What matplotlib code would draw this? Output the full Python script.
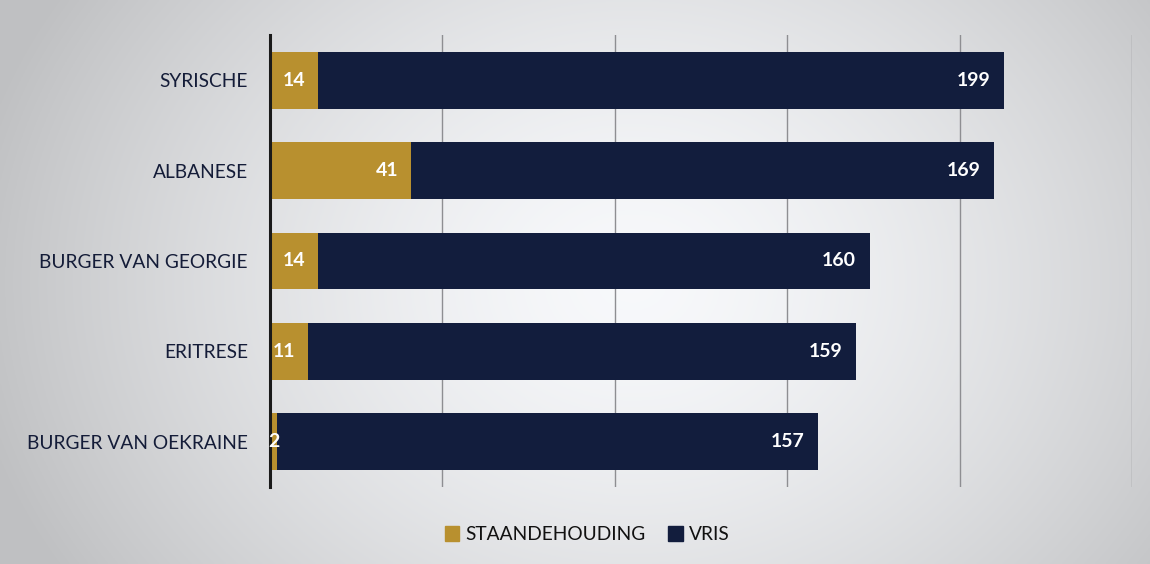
import numpy as np
import matplotlib
matplotlib.use("Agg")
import matplotlib.pyplot as plt
from matplotlib.patches import Patch

# Nationalities and counts per outcome
categories = ["SYRISCHE", "ALBANESE", "BURGER VAN GEORGIE", "ERITRESE", "BURGER VAN OEKRAINE"]
staandehouding = [14, 41, 14, 11, 2]
vris = [199, 169, 160, 159, 157]
series_names = ["STAANDEHOUDING", "VRIS"]

GOLD = "#B8902F"
NAVY = "#121D3D"
FONT = "Lato"

fig = plt.figure(figsize=(11.5, 5.64), dpi=100)

# soft grey backdrop with a lighter centre
bg = fig.add_axes([0, 0, 1, 1], zorder=-10)
yy, xx = np.mgrid[0:1:300j, 0:1:600j]
d = np.sqrt(((xx - 0.55) / 0.45) ** 2 + ((yy - 0.5) / 0.75) ** 2)
light = 0.985 - 0.15 * np.clip(d, 0, 1.3) ** 1.5
img = np.dstack([light * 0.985, light * 0.99, light * 1.0])
img = np.clip(img, 0, 1)
bg.imshow(img, aspect="auto", extent=[0, 1, 0, 1], origin="lower")
bg.axis("off")

ax = fig.add_axes([0.2348, 0.1365, 0.7495, 0.8015])
ax.patch.set_alpha(0)

y = np.arange(len(categories))
h = 0.63
b1 = ax.barh(y, staandehouding, height=h, color=GOLD, zorder=3)
b2 = ax.barh(y, vris, left=staandehouding, height=h, color=NAVY, zorder=3)

ax.set_xlim(0, 250)
ax.set_ylim(len(categories) - 0.5, -0.5)
ax.set_xticks([50, 100, 150, 200, 250])
ax.set_xticklabels([])
ax.tick_params(axis="x", length=0)
ax.tick_params(axis="y", length=0, pad=16)
ax.grid(axis="x", color="#8e8e92", linewidth=1.0, zorder=0)
ax.set_yticks(y)
ax.set_yticklabels(categories, fontsize=13.8, color="#141c38", family=FONT)
for s in ["top", "right", "bottom"]:
    ax.spines[s].set_visible(False)
ax.spines["left"].set_color("#1a1a1a")
ax.spines["left"].set_linewidth(2.2)
ax.spines["left"].set_zorder(5)

# value labels at the inner end of each segment
lab = dict(va="center", color="white", fontsize=14, fontweight="bold",
           family=FONT, zorder=6, textcoords="offset points")
for i in range(len(categories)):
    s = staandehouding[i]
    v = vris[i]
    if s >= 8:
        ax.annotate(str(s), (s, i), xytext=(-9, 0), ha="right", **lab)
    else:
        ax.annotate(str(s), (0, i), xytext=(-1, 0), ha="left", **lab)
    ax.annotate(str(v), (s + v, i), xytext=(-10, 0), ha="right", **lab)

handles = [Patch(color=GOLD, label=series_names[0]), Patch(color=NAVY, label=series_names[1])]
fig.legend(handles=handles, loc="center", bbox_to_anchor=(0.5105, 0.052), ncol=2,
           frameon=False, prop={"family": FONT, "size": 13.8}, handlelength=0.75,
           handleheight=0.75, handletextpad=0.3, columnspacing=1.2, labelcolor="#111111")

fig.savefig("out.png", dpi=100)
